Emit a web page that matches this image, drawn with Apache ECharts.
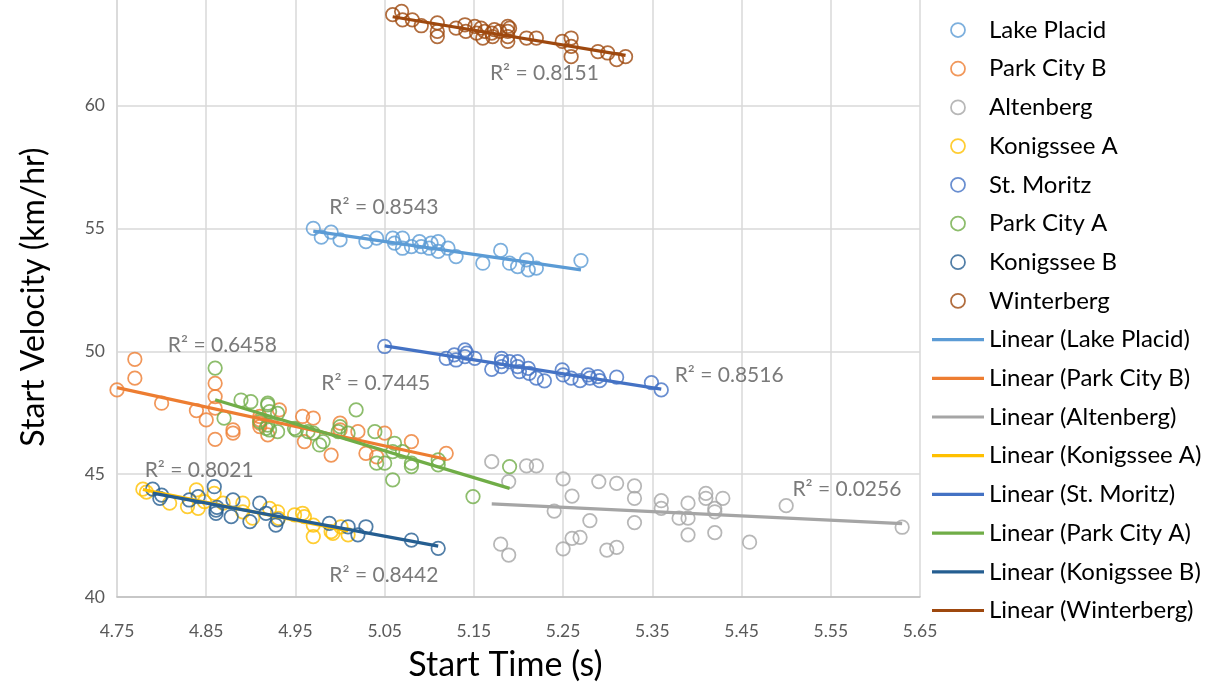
<!DOCTYPE html>
<html><head><meta charset="utf-8">
<script src="https://cdn.jsdelivr.net/npm/echarts@6/dist/echarts.min.js"></script>
<style>html,body{margin:0;padding:0;background:#fff}#c{width:1228px;height:690px}</style>
</head><body><div id="c"></div>
<script>
// ---- data: [start time (s), start velocity (km/hr)] ----
const lakePlacid = [[4.970,55.01],[4.979,54.65],[4.990,54.86],[5.000,54.54],[5.029,54.47],[5.041,54.61],[5.059,54.61],[5.061,54.41],[5.070,54.61],[5.070,54.20],[5.080,54.27],[5.089,54.47],[5.091,54.27],[5.100,54.20],[5.102,54.41],[5.110,54.47],[5.110,54.07],[5.121,54.20],[5.130,53.86],[5.160,53.59],[5.180,54.11],[5.190,53.59],[5.199,53.45],[5.209,53.73],[5.211,53.32],[5.220,53.39],[5.270,53.70]];
const parkCityB = [[4.750,48.43],[4.770,49.68],[4.770,48.91],[4.800,47.89],[4.839,47.59],[4.850,47.21],[4.860,48.70],[4.860,48.16],[4.860,47.69],[4.860,46.42],[4.880,46.80],[4.880,46.67],[4.910,47.35],[4.910,47.21],[4.910,47.08],[4.910,46.94],[4.919,46.60],[4.932,47.62],[4.958,47.35],[4.970,47.28],[4.960,46.33],[4.990,45.78],[5.000,47.08],[5.000,46.80],[5.020,46.73],[5.029,45.85],[5.041,45.71],[5.050,46.67],[5.080,46.33],[5.119,45.85]];
const altenberg = [[5.170,45.51],[5.209,45.34],[5.220,45.34],[5.189,44.70],[5.250,44.81],[5.260,44.11],[5.290,44.70],[5.310,44.63],[5.330,44.52],[5.330,44.02],[5.240,43.50],[5.280,43.11],[5.330,43.03],[5.360,43.92],[5.360,43.61],[5.390,43.82],[5.380,43.21],[5.390,43.21],[5.410,44.22],[5.410,44.02],[5.420,43.61],[5.420,43.47],[5.429,44.02],[5.390,42.53],[5.420,42.62],[5.459,42.23],[5.500,43.72],[5.630,42.84],[5.180,42.15],[5.189,41.71],[5.250,41.96],[5.260,42.39],[5.269,42.43],[5.299,41.91],[5.310,42.02]];
const konigsseeA = [[4.779,44.39],[4.783,44.27],[4.809,43.82],[4.829,43.68],[4.841,43.61],[4.839,44.36],[4.859,44.22],[4.848,43.88],[4.869,43.82],[4.891,43.82],[4.891,43.47],[4.902,43.21],[4.921,43.61],[4.930,43.47],[4.931,43.20],[4.949,43.34],[4.958,43.41],[4.960,43.27],[4.970,42.93],[4.970,42.46],[4.992,42.59],[4.990,42.66],[5.001,42.86],[5.009,42.53]];
const stMoritz = [[5.050,50.20],[5.119,49.72],[5.128,49.86],[5.130,49.65],[5.140,50.06],[5.140,49.79],[5.142,49.93],[5.151,49.72],[5.170,49.27],[5.181,49.72],[5.181,49.58],[5.181,49.38],[5.190,49.58],[5.199,49.58],[5.199,49.38],[5.201,49.18],[5.211,49.31],[5.212,49.11],[5.220,48.91],[5.229,48.80],[5.249,49.25],[5.250,49.04],[5.259,48.91],[5.269,48.81],[5.278,49.04],[5.280,48.91],[5.289,48.97],[5.291,48.81],[5.310,48.95],[5.349,48.73],[5.360,48.43]];
const parkCityA = [[4.860,49.32],[4.870,47.28],[4.889,48.02],[4.900,47.95],[4.910,47.14],[4.917,46.87],[4.919,47.89],[4.919,47.82],[4.921,47.55],[4.919,47.00],[4.921,46.80],[4.930,47.48],[4.930,46.73],[4.949,46.87],[4.951,46.80],[4.964,46.73],[4.970,46.67],[4.977,46.19],[4.981,46.33],[4.998,46.73],[5.000,46.94],[5.009,46.67],[5.018,47.62],[5.039,46.73],[5.041,45.45],[5.050,45.45],[5.059,45.92],[5.061,46.26],[5.070,45.92],[5.080,45.45],[5.080,45.31],[5.059,44.77],[5.110,45.58],[5.110,45.38],[5.149,44.09],[5.190,45.31]];
const konigsseeB = [[4.790,44.39],[4.800,44.15],[4.798,44.02],[4.831,43.95],[4.841,44.09],[4.859,44.49],[4.861,43.54],[4.861,43.41],[4.862,43.65],[4.880,43.95],[4.878,43.27],[4.899,43.07],[4.910,43.82],[4.917,43.41],[4.928,42.93],[4.930,43.14],[4.988,43.00],[5.009,42.86],[5.020,42.53],[5.029,42.86],[5.080,42.32],[5.110,41.98]];
const winterberg = [[5.059,63.71],[5.069,63.84],[5.070,63.50],[5.081,63.50],[5.091,63.26],[5.109,63.38],[5.109,63.03],[5.109,62.82],[5.130,63.16],[5.140,63.30],[5.141,63.03],[5.151,63.23],[5.153,62.96],[5.158,63.16],[5.160,62.76],[5.162,63.03],[5.170,62.96],[5.171,62.82],[5.173,63.10],[5.179,63.03],[5.188,63.23],[5.188,63.03],[5.188,62.82],[5.188,62.62],[5.190,63.16],[5.209,62.76],[5.220,62.76],[5.249,62.62],[5.259,62.76],[5.259,62.42],[5.259,62.00],[5.289,62.21],[5.300,62.15],[5.310,61.88],[5.320,62.00]];

const seriesNames = ['Lake Placid','Park City B','Altenberg','Konigssee A','St. Moritz','Park City A','Konigssee B','Winterberg'];
const seriesData = [lakePlacid, parkCityB, altenberg, konigsseeA, stMoritz, parkCityA, konigsseeB, winterberg];
const seriesColors = ['#5B9BD5','#ED7D31','#A5A5A5','#FFC000','#4472C4','#70AD47','#255E91','#9E480E'];
const r2Texts = ['R² = 0.8543','R² = 0.6458','R² = 0.0256','R² = 0.8021','R² = 0.8516','R² = 0.7445','R² = 0.8442','R² = 0.8151'];
// annotation anchors (data coords of the left-middle of each R² label)
const r2Anchors = [[4.988,55.85],[4.807,50.26],[5.507,44.40],[4.781,45.17],[5.375,49.04],[4.979,48.72],[4.988,40.90],[5.168,61.34]];

function trend(pts){
  const n = pts.length;
  let sx=0, sy=0, sxx=0, sxy=0, mn=Infinity, mx=-Infinity;
  pts.forEach(([x,y])=>{sx+=x; sy+=y; sxx+=x*x; sxy+=x*y; mn=Math.min(mn,x); mx=Math.max(mx,x);});
  const b = (n*sxy - sx*sy)/(n*sxx - sx*sx);
  const a = (sy - b*sx)/n;
  return [[mn, a+b*mn],[mx, a+b*mx]];
}

const FONT = 'Lato, "Open Sans", sans-serif';
const series = [];
seriesNames.forEach((nm,i)=>{
  series.push({
    name: nm, type:'scatter', data: seriesData[i], symbol:'circle', symbolSize: 13.5,
    itemStyle:{color:'rgba(255,255,255,0)', borderColor: seriesColors[i], borderWidth: 1.75},
    emphasis:{disabled:true}, z: 2
  });
});
seriesNames.forEach((nm,i)=>{
  series.push({
    name: 'Linear (' + nm + ')', type:'line', data: trend(seriesData[i]), symbol:'none',
    lineStyle:{color: seriesColors[i], width: 3.2}, itemStyle:{color: seriesColors[i]},
    emphasis:{disabled:true}, z: 3
  });
});
series.push({
  name:'r2', type:'scatter', symbolSize: 0, silent: true, z: 5,
  data: r2Anchors.map((p,i)=>({value:p, name:r2Texts[i]})),
  label:{show:true, position:'right', distance:0, formatter:'{b}', fontSize:21, color:'#595959', fontFamily: FONT}
});

const legendData = seriesNames.map((nm,i)=>({name:nm, icon:'circle',
  itemStyle:{color:'#fff', borderColor:seriesColors[i], borderWidth:1.75}}))
  .concat(seriesNames.map((nm,i)=>({name:'Linear (' + nm + ')', icon:'path://M0,0L52,0L52,3.2L0,3.2Z',
  itemStyle:{color:seriesColors[i], borderWidth:0}})));

const chart = echarts.init(document.getElementById('c'), null, {renderer:'canvas'});
chart.setOption({
  animation:false,
  backgroundColor:'#fff',
  grid:{left:117, right:308, top:-17, bottom:93, outerBoundsMode:'none', containLabel:false},
  legend:{
    orient:'vertical', left:927, top:13, itemWidth:52, itemHeight:14, itemGap:14.7,
    data: legendData, selectedMode:false,
    textStyle:{fontSize:24, color:'#000', fontFamily: FONT, lineHeight:24}
  },
  xAxis:{
    type:'value', min:4.75, max:5.65, interval:0.1,
    name:'Start Time (s)', nameLocation:'middle', nameGap:51,
    nameTextStyle:{fontSize:34, color:'#000', fontFamily: FONT, padding:[0,26,0,0]},
    axisLine:{show:true, lineStyle:{color:'#BFBFBF', width:1.5}},
    axisTick:{show:false},
    axisLabel:{fontSize:17.5, color:'#595959', margin:25, fontFamily: FONT, formatter: v => v.toFixed(2)},
    splitLine:{show:true, lineStyle:{color:'#D9D9D9', width:1.5}}
  },
  yAxis:{
    type:'value', min:40, max:65, interval:5,
    name:'Start Velocity (km/hr)', nameLocation:'middle', nameGap:67, nameRotate:90,
    nameTextStyle:{fontSize:32, color:'#000', fontFamily: FONT, padding:[0,14,0,0]},
    axisLine:{show:true, lineStyle:{color:'#D9D9D9', width:1.5}},
    axisTick:{show:false},
    axisLabel:{fontSize:17.5, color:'#595959', margin:12, fontFamily: FONT},
    splitLine:{show:true, lineStyle:{color:'#D9D9D9', width:1.5}}
  },
  series: series
});
</script>
</body></html>
